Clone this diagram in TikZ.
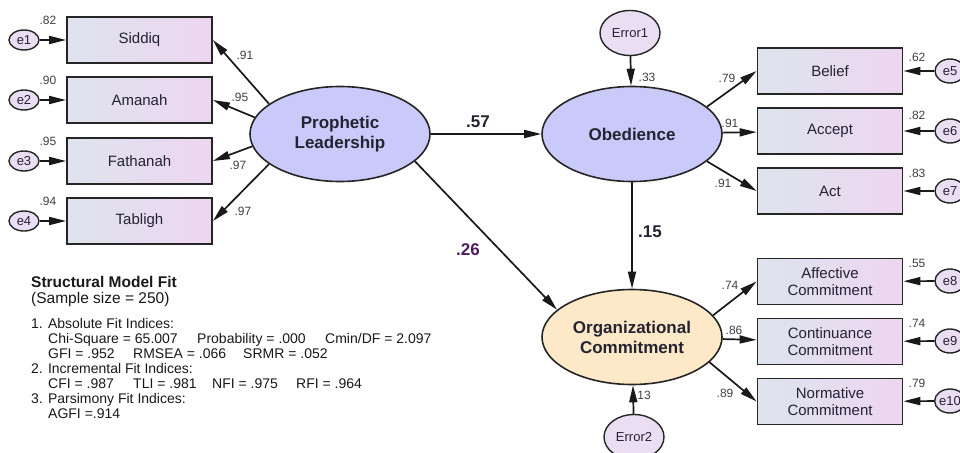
\documentclass[tikz,border=0pt]{standalone}
\usepackage{fontspec}
\setmainfont{Liberation Sans}
\usetikzlibrary{shapes.geometric,arrows.meta}
\definecolor{boxleft}{RGB}{221,228,238}
\definecolor{boxright}{RGB}{238,214,240}
\definecolor{latfill}{RGB}{202,202,250}
\definecolor{ocfill}{RGB}{253,232,200}
\definecolor{errfill}{RGB}{234,222,242}
\definecolor{coefpurple}{RGB}{80,30,95}
\definecolor{ink}{RGB}{35,35,50}
\begin{document}
\begin{tikzpicture}[x=1pt,y=-1pt,>={Triangle[length=17pt,width=8pt]},
  ind/.style={draw=black!85,line width=1.8pt,left color=boxleft,right color=boxright,minimum width=145pt,minimum height=46pt,inner sep=0pt,align=center,text=ink,font=\fontsize{15}{17}\selectfont},
  lat/.style={ellipse,draw=black!85,line width=1.6pt,fill=latfill,minimum width=180pt,minimum height=95pt,inner sep=0pt,align=center,text=ink,font=\fontsize{17}{20}\selectfont\bfseries},
  err/.style={ellipse,draw=black!85,line width=1.4pt,fill=errfill,inner sep=0pt,text=ink,font=\fontsize{13}{14}\selectfont},
  pth/.style={->,line width=1.7pt,black!90},
  lbl/.style={text=black!75,font=\fontsize{12}{13}\selectfont},
  coef/.style={text=ink,font=\fontsize{17}{19}\selectfont\bfseries},
  fit/.style={anchor=base west,inner sep=0pt,text=black!90,font=\fontsize{14}{15}\selectfont}]
\useasboundingbox[fill=white] (0,0) rectangle (960,452);

\node[lat] (pl) at (340,134) {Prophetic\\Leadership};
\node[lat] (ob) at (632,134) {Obedience};
\node[lat,fill=ocfill] (oc) at (632,337) {Organizational\\Commitment};
\node[err,minimum width=60pt,minimum height=45pt] (error1) at (630,33) {Error1};
\node[err,minimum width=60pt,minimum height=45pt] (error2) at (634,437) {Error2};

\node[ind] (siddiq) at (139.5,40) {Siddiq};
\node[ind] (amanah) at (139.5,100) {Amanah};
\node[ind] (fathanah) at (139.5,161) {Fathanah};
\node[ind] (tabligh) at (139.5,221) {Tabligh};
\node[ind] (belief) at (830,71) {Belief};
\node[ind] (accept) at (830,131) {Accept};
\node[ind] (act) at (830,191) {Act};
\node[ind] (affective) at (830,281.5) {Affective\\Commitment};
\node[ind] (continuance) at (830,341.5) {Continuance\\Commitment};
\node[ind] (normative) at (830,401.5) {Normative\\Commitment};

\node[err,minimum width=30pt,minimum height=20pt] (e1) at (24,40) {e1};
\node[err,minimum width=30pt,minimum height=20pt] (e2) at (24,100) {e2};
\node[err,minimum width=30pt,minimum height=20pt] (e3) at (24,161) {e3};
\node[err,minimum width=30pt,minimum height=20pt] (e4) at (24,221) {e4};
\node[err,minimum width=30pt,minimum height=24pt] (e5) at (950,71) {e5};
\node[err,minimum width=30pt,minimum height=24pt] (e6) at (950,131) {e6};
\node[err,minimum width=30pt,minimum height=24pt] (e7) at (950,191) {e7};
\node[err,minimum width=30pt,minimum height=24pt] (e8) at (950,281) {e8};
\node[err,minimum width=30pt,minimum height=24pt] (e9) at (950,341) {e9};
\node[err,minimum width=30pt,minimum height=24pt] (e10) at (950,401) {e10};

\draw[pth] (e1) -- (siddiq);
\draw[pth] (e2) -- (amanah);
\draw[pth] (e3) -- (fathanah);
\draw[pth] (e4) -- (tabligh);
\draw[pth] (e5) -- (belief);
\draw[pth] (e6) -- (accept);
\draw[pth] (e7) -- (act);
\draw[pth] (e8) -- (affective);
\draw[pth] (e9) -- (continuance);
\draw[pth] (e10) -- (normative);

\draw[pth] (pl.157) -- (siddiq.east);
\draw[pth] (pl.169) -- (amanah.east);
\draw[pth] (pl.188) -- (fathanah.east);
\draw[pth] (pl.203) -- (tabligh.east);
\draw[pth] (ob.20) -- (belief.west);
\draw[pth] (ob) -- (accept);
\draw[pth] (ob.-20) -- (act.west);
\draw[pth] (oc.15) -- (affective.west);
\draw[pth] (oc) -- (continuance);
\draw[pth] (oc.-18) -- (normative.west);

\draw[pth] (pl) -- (ob);
\draw[pth] (pl.-20) -- (oc.160);
\draw[pth] (ob) -- (oc);
\draw[pth] (error1) -- (ob);
\draw[pth] (error2) -- (oc);

\node[lbl] (r1) at (48,20) {.82};
\node[lbl] (r2) at (48,80) {.90};
\node[lbl] (r3) at (48,141) {.95};
\node[lbl] (r4) at (48,201) {.94};
\node[lbl] (l1) at (245,55) {.91};
\node[lbl] (l2) at (240,97) {.95};
\node[lbl] (l3) at (238,165) {.97};
\node[lbl] (l4) at (243,211) {.97};
\node[lbl] (r5) at (917,57) {.62};
\node[lbl] (r6) at (917,115) {.82};
\node[lbl] (r7) at (917,173) {.83};
\node[lbl] (r8) at (917,263) {.55};
\node[lbl] (r9) at (917,323) {.74};
\node[lbl] (r10) at (917,383) {.79};
\node[lbl] (l5) at (727,78) {.79};
\node[lbl] (l6) at (730,123) {.91};
\node[lbl] (l7) at (723,183) {.91};
\node[lbl] (l8) at (730,285) {.74};
\node[lbl] (l9) at (734,330) {.86};
\node[lbl] (l10) at (725,393) {.89};
\node[lbl] (rob) at (647,77) {.33};
\node[lbl] (roc) at (644,395) {13};

\node[coef] (c1) at (478,122) {.57};
\node[coef] (c2) at (650,232) {.15};
\node[coef,text=coefpurple] (c3) at (468,250) {.26};

\node[fit,font=\fontsize{15.5}{17}\selectfont\bfseries] (fit0) at (31,287) {Structural Model Fit};
\node[fit,font=\fontsize{15.5}{17}\selectfont] (fit1) at (31,303) {(Sample size = 250)};
\node[fit] (fit2) at (31,328) {1. Absolute Fit Indices:};
\node[fit] (fit3a) at (48,343) {Chi-Square = 65.007};
\node[fit] (fit3b) at (197,343) {Probability = .000};
\node[fit] (fit3c) at (325,343) {Cmin/DF = 2.097};
\node[fit] (fit4a) at (48,358) {GFI = .952};
\node[fit] (fit4b) at (133,358) {RMSEA = .066};
\node[fit] (fit4c) at (243,358) {SRMR = .052};
\node[fit] (fit5) at (31,373) {2. Incremental Fit Indices:};
\node[fit] (fit6a) at (48,388) {CFI = .987};
\node[fit] (fit6b) at (133,388) {TLI = .981};
\node[fit] (fit6c) at (212,388) {NFI = .975};
\node[fit] (fit6d) at (296,388) {RFI = .964};
\node[fit] (fit7) at (31,403) {3. Parsimony Fit Indices:};
\node[fit] (fit8) at (48,418) {AGFI =.914};
\end{tikzpicture}
\end{document}
